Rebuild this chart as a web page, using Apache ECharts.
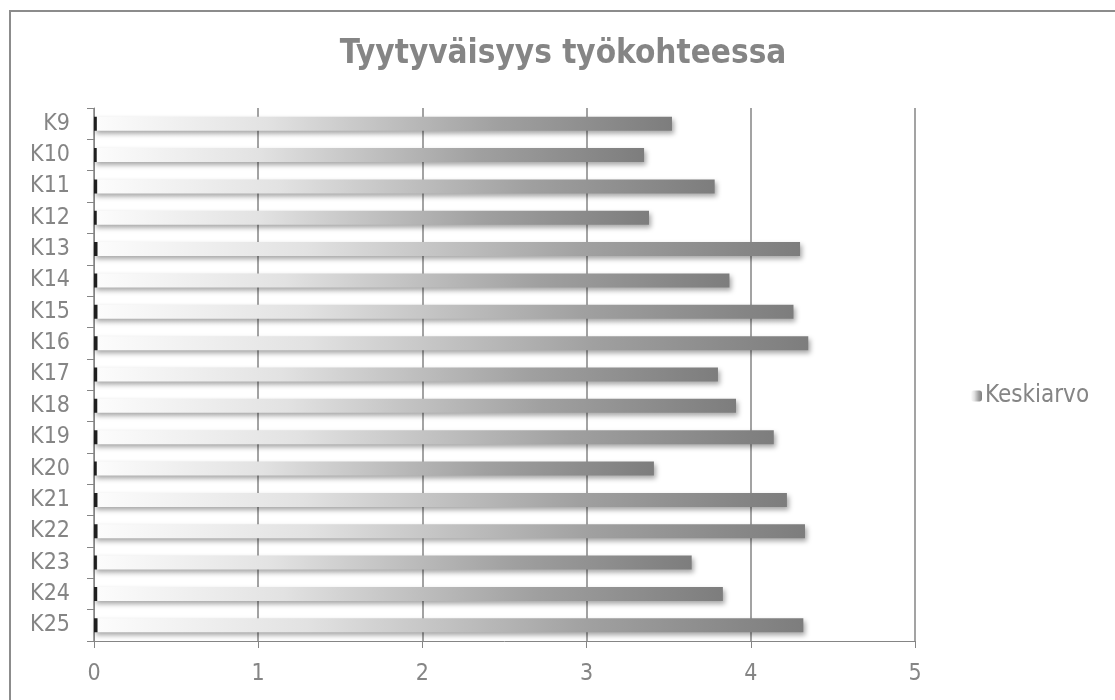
<!DOCTYPE html>
<html>
<head>
<meta charset="utf-8">
<script src="https://cdn.jsdelivr.net/npm/echarts@6/dist/echarts.min.js"></script>
<style>
  html, body { margin: 0; padding: 0; background: #ffffff; }
  #chart { width: 1115px; height: 700px; }
</style>
</head>
<body>
<div id="chart"></div>
<script>
// Questions shown top to bottom
const categories = ['K9', 'K10', 'K11', 'K12', 'K13', 'K14', 'K15', 'K16', 'K17',
                    'K18', 'K19', 'K20', 'K21', 'K22', 'K23', 'K24', 'K25'];
// Average satisfaction per question
const keskiarvo = [3.52, 3.35, 3.78, 3.38, 4.30, 3.87, 4.26, 4.35, 3.80,
                   3.91, 4.14, 3.41, 4.22, 4.33, 3.64, 3.83, 4.32];
const seriesName = 'Keskiarvo';
const titleText = 'Tyytyväisyys työkohteessa';
const xTicks = [0, 1, 2, 3, 4, 5];

const grey = '#858585';
const fontFam = '"DejaVu Sans Condensed", "DejaVu Sans", sans-serif';

const barGradient = new echarts.graphic.LinearGradient(0, 0, 1, 0, [
  { offset: 0, color: '#1e1e1e' },
  { offset: 0.004, color: '#1e1e1e' },
  { offset: 0.006, color: '#fcfcfc' },
  { offset: 0.3, color: '#e2e2e2' },
  { offset: 0.7, color: '#a0a0a0' },
  { offset: 1, color: '#7d7d7d' }
]);

const chart = echarts.init(document.getElementById('chart'));
chart.setOption({
  animation: false,
  backgroundColor: '#ffffff',
  title: {
    text: titleText,
    left: 558,
    textAlign: 'center',
    top: 33,
    textStyle: { color: grey, fontSize: 33, fontWeight: 'bold', fontFamily: fontFam }
  },
  legend: {
    data: [seriesName],
    orient: 'vertical',
    left: 966,
    top: 379,
    itemWidth: 11,
    itemHeight: 11,
    itemGap: 4,
    textStyle: { color: grey, fontSize: 24, fontFamily: fontFam, padding: [0, 0, 0, -2] }
  },
  grid: { left: 94, right: 200, top: 108, bottom: 59, containLabel: false },
  xAxis: {
    type: 'value',
    min: xTicks[0],
    max: xTicks[xTicks.length - 1],
    interval: 1,
    axisLine: { show: true, lineStyle: { color: grey, width: 1 } },
    axisTick: { show: true, length: 7, lineStyle: { color: grey } },
    axisLabel: { color: grey, fontSize: 23, fontFamily: fontFam, margin: 22 },
    splitLine: { show: true, lineStyle: { color: grey, width: 1.5 } }
  },
  yAxis: {
    type: 'category',
    data: categories,
    inverse: true,
    axisLine: { show: true, lineStyle: { color: grey, width: 1 } },
    axisTick: { show: true, length: 7, alignWithLabel: false, lineStyle: { color: grey } },
    axisLabel: { color: grey, fontSize: 23, fontFamily: fontFam, margin: 24 }
  },
  series: [{
    name: seriesName,
    type: 'bar',
    data: keskiarvo,
    barWidth: 14,
    itemStyle: {
      color: barGradient,
      shadowColor: 'rgba(0,0,0,0.35)',
      shadowBlur: 5,
      shadowOffsetX: 2,
      shadowOffsetY: 3
    }
  }],
  graphic: [{
    type: 'rect',
    shape: { x: 10, y: 11, width: 1200, height: 800 },
    style: { fill: 'none', stroke: '#8c8c8c', lineWidth: 2 },
    silent: true,
    z: 100
  }]
});
</script>
</body>
</html>
